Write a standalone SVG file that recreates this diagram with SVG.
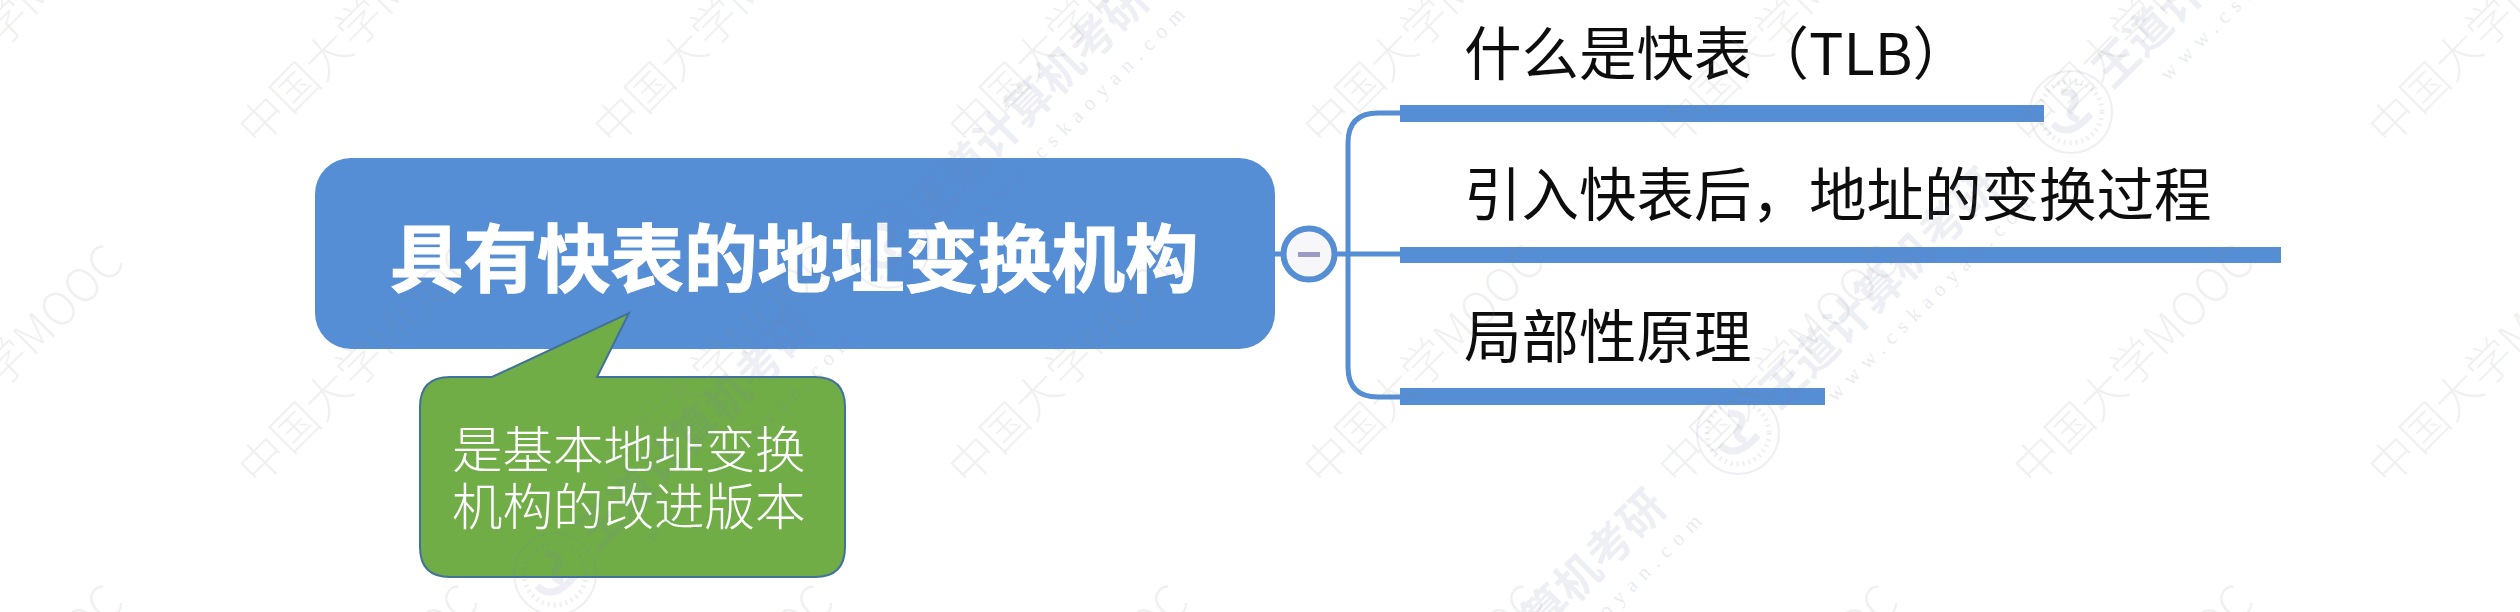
<svg xmlns="http://www.w3.org/2000/svg" width="2520" height="612" viewBox="0 0 2520 612">
<style>
text{font-family:"Noto Sans CJK SC","Noto Sans",sans-serif}
.bar{fill:#558ed5}
.link{fill:none;stroke:#558ed5;stroke-width:5}
.branch{font-size:57.5px;fill:#111;filter:url(#soft)}
.wm1{font-size:46px;font-weight:300;fill:#8a8a8a;fill-opacity:.12}
.wm2{font-size:45px;font-weight:700;fill:#7c7cb0;fill-opacity:.13}
.wm3{font-size:21px;fill:#7c7cb0;fill-opacity:.18;font-family:"Liberation Serif",serif}
.seal{fill:none;stroke:#7c7cb0;stroke-opacity:.13}
</style>
<defs>
<filter id="soft" x="-5%" y="-10%" width="110%" height="120%"><feGaussianBlur stdDeviation="0.7"/></filter>
<text id="mooc" class="wm1" transform="rotate(-45)">中国大学MOOC</text>
<g id="brand">
<text class="wm2" transform="rotate(-45)">王道计算机考研</text>
<text class="wm3" x="47" y="0" transform="translate(-4 -2) rotate(-45) translate(0 38)" textLength="284" lengthAdjust="spacing">www.cskaoyan.com</text>
<g transform="translate(-41 22)">
<circle class="seal" r="41" stroke-width="2"/>
<circle class="seal" r="31" stroke-width="5" stroke-dasharray="2 4"/>
<path class="seal" stroke-width="7" d="M-18 12Q-2 28 20 2M-10 -20Q10 -20 2 -6Q-6 4 8 8"/>
</g>
</g>
</defs>
<rect width="2520" height="612" fill="#fff"/>
<g id="connectors">
<path class="link" d="M1275 254H1284M1334 254H1400M1400 113H1378Q1348 113 1348 143V367Q1348 397 1378 397H1400"/>
</g>
<g id="root">
<rect x="315" y="158" width="960" height="191" rx="36" fill="#558ed5"/>
<text x="390" y="286" font-size="73.5" font-weight="700" fill="#fff" stroke="#fff" stroke-width="1" filter="url(#soft)">具有快表的地址变换机构</text>
</g>
<g id="collapse">
<circle cx="1309" cy="254" r="25.5" fill="#f7f7fa" stroke="#558ed5" stroke-width="6"/>
<rect x="1298" y="252" width="22" height="5" fill="#9a9ac4"/>
</g>
<g id="callout">
<path d="M450 377H492L629 313L597 377H815Q845 377 845 407V547Q845 577 815 577H450Q420 577 420 547V407Q420 377 450 377Z" fill="#70ad47" stroke="#41719c" stroke-width="2"/>
<text x="452" y="468" font-size="50.5" font-weight="300" fill="#fff">是基本地址变换</text>
<text x="452" y="525" font-size="50.5" font-weight="300" fill="#fff">机构的改进版本</text>
</g>
<g id="topic1">
<rect class="bar" x="1400" y="105" width="644" height="17"/>
<text class="branch" x="1464" y="75">什么是快表（TLB）</text>
</g>
<g id="topic2">
<rect class="bar" x="1400" y="247" width="881" height="16"/>
<text class="branch" x="1464" y="216">引入快表后，地址的变换过程</text>
</g>
<g id="topic3">
<rect class="bar" x="1400" y="388" width="425" height="17"/>
<text class="branch" x="1464" y="358">局部性原理</text>
</g>
<g id="watermarks">
<use href="#mooc" x="-97" y="148"/><use href="#mooc" x="258" y="148"/><use href="#mooc" x="613" y="148"/><use href="#mooc" x="968" y="148"/><use href="#mooc" x="1323" y="148"/><use href="#mooc" x="1678" y="148"/><use href="#mooc" x="2033" y="148"/><use href="#mooc" x="2388" y="148"/>
<use href="#mooc" x="-97" y="488"/><use href="#mooc" x="258" y="488"/><use href="#mooc" x="613" y="488"/><use href="#mooc" x="968" y="488"/><use href="#mooc" x="1323" y="488"/><use href="#mooc" x="1678" y="488"/><use href="#mooc" x="2033" y="488"/><use href="#mooc" x="2388" y="488"/>
<use href="#mooc" x="-97" y="828"/><use href="#mooc" x="258" y="828"/><use href="#mooc" x="613" y="828"/><use href="#mooc" x="968" y="828"/><use href="#mooc" x="1323" y="828"/><use href="#mooc" x="1678" y="828"/><use href="#mooc" x="2033" y="828"/><use href="#mooc" x="2388" y="828"/>
<use href="#brand" x="929" y="225"/><use href="#brand" x="596" y="552"/><use href="#brand" x="1446" y="732"/><use href="#brand" x="1779" y="411"/><use href="#brand" x="2112" y="90"/>
</g>
</svg>
